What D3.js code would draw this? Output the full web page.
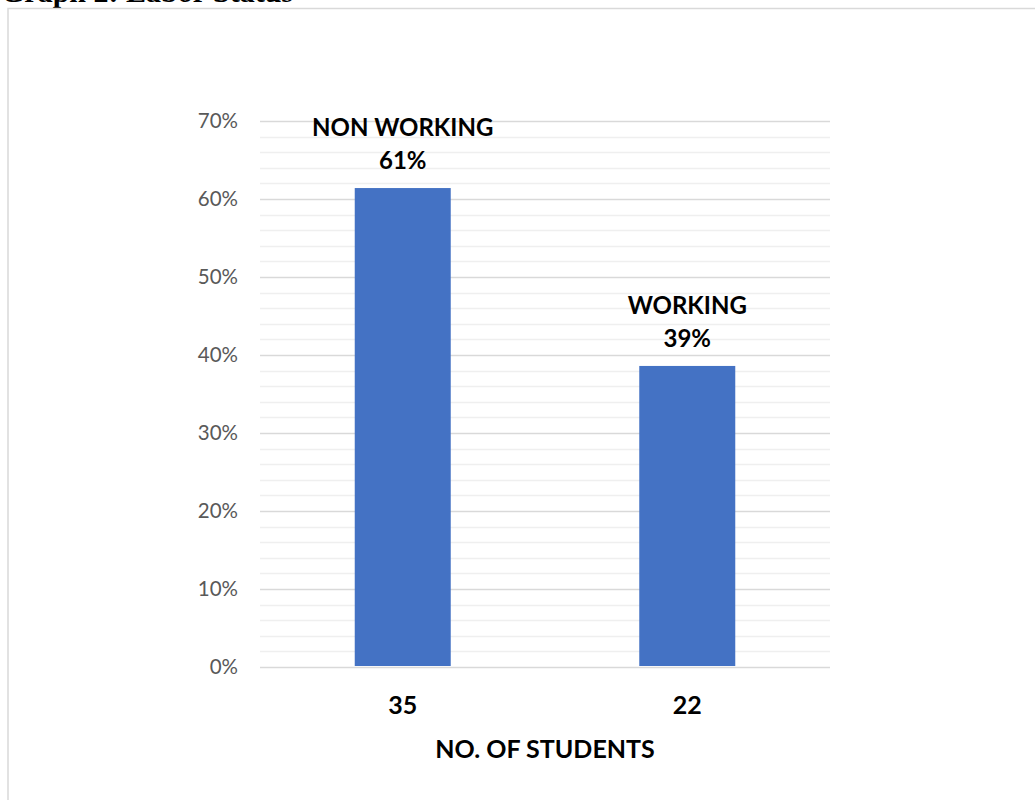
<!DOCTYPE html>
<html>
<head>
<meta charset="utf-8">
<script src="https://cdn.jsdelivr.net/npm/d3@7"></script>
<style>
  html, body { margin: 0; padding: 0; background: #ffffff; }
  svg { display: block; }
</style>
</head>
<body>
<svg id="chart" width="1035" height="800"></svg>
<script>
// Labor status of the surveyed students
const categories = ["35", "22"];              // x-axis labels: number of students
const statusLabels = ["NON WORKING", "WORKING"];
const studentCounts = [35, 22];
const yTicks = [0, 0.1, 0.2, 0.3, 0.4, 0.5, 0.6, 0.7];

const total = d3.sum(studentCounts);
const shares = studentCounts.map(c => c / total);

const svg = d3.select("#chart");
const W = 1035, H = 800;

// Page heading, partly above the visible area
svg.append("text")
  .attr("x", 293).attr("y", 2)
  .attr("text-anchor", "end")
  .attr("font-family", "'Liberation Serif', 'Times New Roman', serif")
  .attr("font-weight", "bold")
  .attr("font-size", 30)
  .attr("fill", "#000")
  .text("Graph 2: Labor Status");

// Chart frame
svg.append("rect")
  .attr("x", 8).attr("y", 8.5)
  .attr("width", W + 20).attr("height", H + 20)
  .attr("fill", "#fff")
  .attr("stroke", "#d9d9d9")
  .attr("stroke-width", 1.5);

const plot = { left: 260, right: 830, top: 121, bottom: 667 };

const x = d3.scaleBand()
  .domain(categories)
  .range([plot.left, plot.right])
  .paddingInner(0.6626)
  .paddingOuter(0.333);

const y = d3.scaleLinear()
  .domain([0, 0.7])
  .range([plot.bottom, plot.top]);

// Minor gridlines every 2%
const minor = d3.range(0, 0.7001, 0.02).filter(v => Math.abs(v * 10 - Math.round(v * 10)) > 1e-6);
svg.append("g")
  .selectAll("line")
  .data(minor)
  .join("line")
  .attr("x1", plot.left).attr("x2", plot.right)
  .attr("y1", d => Math.round(y(d)) + 0.5)
  .attr("y2", d => Math.round(y(d)) + 0.5)
  .attr("stroke", "#efefef")
  .attr("stroke-width", 1.5);

// Major gridlines and tick labels
const yAxis = d3.axisLeft(y)
  .tickValues(yTicks)
  .tickFormat(d3.format(".0%"))
  .tickSize(-(plot.right - plot.left))
  .tickPadding(22);

const gy = svg.append("g")
  .attr("transform", `translate(${plot.left},0)`)
  .call(yAxis);
gy.select(".domain").remove();
gy.selectAll(".tick line")
  .attr("stroke", "#d9d9d9")
  .attr("stroke-width", 1.5);
gy.selectAll(".tick text")
  .attr("fill", "#595959")
  .attr("font-family", "Lato, 'Open Sans', sans-serif")
  .attr("font-size", 20.5);

// Bars
const bars = categories.map((c, i) => ({ cat: c, share: shares[i], status: statusLabels[i] }));

svg.append("g")
  .selectAll("rect")
  .data(bars)
  .join("rect")
  .attr("x", d => x(d.cat))
  .attr("width", x.bandwidth())
  .attr("y", d => y(d.share))
  .attr("height", d => y(0) - y(d.share) - 1)
  .attr("fill", "#4472c4");

// Data labels: status name and percentage
const lbl = svg.append("g")
  .attr("font-family", "Lato, 'Open Sans', sans-serif")
  .attr("font-weight", "bold")
  .attr("font-size", 24)
  .attr("fill", "#000")
  .attr("text-anchor", "middle");

lbl.selectAll("text.status")
  .data(bars)
  .join("text")
  .attr("class", "status")
  .attr("x", d => x(d.cat) + x.bandwidth() / 2)
  .attr("y", d => y(d.share) - 52)
  .text(d => d.status);

lbl.selectAll("text.pct")
  .data(bars)
  .join("text")
  .attr("class", "pct")
  .attr("x", d => x(d.cat) + x.bandwidth() / 2)
  .attr("y", d => y(d.share) - 19)
  .text(d => d3.format(".0%")(d.share));

// Category axis labels
const xAxis = d3.axisBottom(x).tickSize(0).tickPadding(0);
const gx = svg.append("g")
  .attr("transform", `translate(0,${plot.bottom})`)
  .call(xAxis);
gx.select(".domain").remove();
gx.selectAll(".tick text")
  .attr("dy", null)
  .attr("y", 47)
  .attr("fill", "#000")
  .attr("font-family", "Lato, 'Open Sans', sans-serif")
  .attr("font-weight", "bold")
  .attr("font-size", 25);

// Axis title
svg.append("text")
  .attr("x", (plot.left + plot.right) / 2)
  .attr("y", 758)
  .attr("text-anchor", "middle")
  .attr("font-family", "Lato, 'Open Sans', sans-serif")
  .attr("font-weight", "bold")
  .attr("font-size", 25)
  .attr("fill", "#000")
  .text("NO. OF STUDENTS");
</script>
</body>
</html>
